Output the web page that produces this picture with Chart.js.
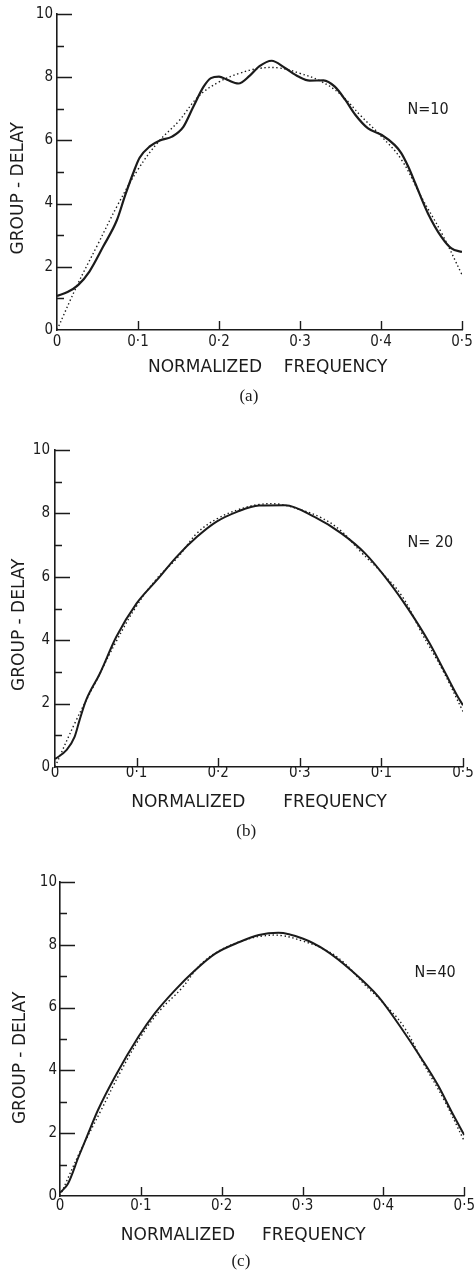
<!DOCTYPE html>
<html>
<head>
<meta charset="utf-8">
<script src="https://cdn.jsdelivr.net/npm/chart.js@4.4.1/dist/chart.umd.min.js"></script>
<style>
  html, body { margin: 0; padding: 0; background: #fff; }
  body { width: 476px; height: 1276px; position: relative; overflow: hidden; }
  canvas { position: absolute; left: 0; }
</style>
</head>
<body>
<canvas id="chartA" width="476" height="415" style="top:0px;width:476px;height:415px"></canvas>
<canvas id="chartB" width="476" height="430" style="top:415px;width:476px;height:430px"></canvas>
<canvas id="chartC" width="476" height="431" style="top:845px;width:476px;height:431px"></canvas>
<script>
// desired group delay (dotted curve), same in all three panels
const idealFreq  = [0, 0.025, 0.05, 0.075, 0.1, 0.125, 0.15, 0.175, 0.2, 0.225, 0.25, 0.275, 0.3, 0.325, 0.35, 0.375, 0.4, 0.425, 0.45, 0.475, 0.5];
const idealDelay = [0, 1.42, 2.69, 3.96, 5.08, 5.95, 6.6, 7.4, 7.85, 8.12, 8.28, 8.29, 8.12, 7.88, 7.46, 6.78, 6.14, 5.4, 4.2, 3.06, 1.75];

// designed responses (solid curves)
const freqN10  = [0, 0.013, 0.026, 0.04, 0.057, 0.074, 0.084, 0.094, 0.102, 0.115, 0.127, 0.142, 0.156, 0.168, 0.181, 0.19, 0.2, 0.21, 0.224, 0.238, 0.25, 0.265, 0.281, 0.298, 0.312, 0.329, 0.343, 0.356, 0.368, 0.384, 0.401, 0.417, 0.425, 0.434, 0.442, 0.458, 0.475, 0.487, 0.5];
const delayN10 = [1.08, 1.2, 1.42, 1.85, 2.64, 3.48, 4.25, 4.96, 5.45, 5.82, 6.0, 6.12, 6.43, 7.05, 7.7, 7.97, 8.02, 7.92, 7.8, 8.05, 8.35, 8.52, 8.3, 8.02, 7.89, 7.9, 7.7, 7.28, 6.82, 6.38, 6.17, 5.85, 5.6, 5.15, 4.66, 3.69, 2.93, 2.58, 2.47];

const freqN20  = [0, 0.014, 0.024, 0.03, 0.038, 0.055, 0.075, 0.1, 0.125, 0.149, 0.174, 0.198, 0.223, 0.25, 0.282, 0.318, 0.351, 0.38, 0.409, 0.433, 0.458, 0.478, 0.494, 0.5];
const delayN20 = [0.25, 0.53, 0.95, 1.47, 2.1, 2.95, 4.1, 5.16, 5.9, 6.63, 7.26, 7.74, 8.05, 8.25, 8.26, 7.89, 7.37, 6.74, 5.85, 4.98, 3.95, 2.98, 2.2, 1.95];

const freqN40  = [0, 0.01, 0.023, 0.035, 0.047, 0.068, 0.097, 0.117, 0.142, 0.167, 0.192, 0.222, 0.246, 0.27, 0.3, 0.328, 0.36, 0.394, 0.422, 0.447, 0.468, 0.484, 0.5];
const delayN40 = [0.1, 0.4, 1.25, 2.0, 2.74, 3.8, 5.07, 5.81, 6.55, 7.19, 7.72, 8.09, 8.31, 8.38, 8.2, 7.83, 7.19, 6.34, 5.35, 4.38, 3.5, 2.7, 1.94];

// tick labels (panel b really prints 0·1 at 0·4)
const xTickLabelsA = ['0', '0·1', '0·2', '0·3', '0·4', '0·5'];
const xTickLabelsB = ['0', '0·1', '0·2', '0·3', '0·1', '0·5'];
const xTickLabelsC = ['0', '0·1', '0·2', '0·3', '0·4', '0·5'];
const yTickLabels  = ['0', '', '2', '', '4', '', '6', '', '8', '', '10'];

const ink = '#1b1b1b';
const condensed = '"DejaVu Sans Condensed", "DejaVu Sans", sans-serif';

function pts(xs, ys){
  return xs.map((x, i) => ({x: x, y: ys[i]}));
}

// tick marks point into the plot, long ones at labelled values
const inwardTicks = {
  id: 'inwardTicks',
  afterDraw(chart){
    const {ctx, chartArea, scales: {x, y}} = chart;
    ctx.save();
    ctx.strokeStyle = ink;
    ctx.lineWidth = 1.4;
    ctx.beginPath();
    y.ticks.forEach(t => {
      if(t.value === 0) return;
      const py = Math.round(y.getPixelForValue(t.value)) + 0.5;
      const len = t.value % 2 === 0 ? 15 : 7;
      ctx.moveTo(chartArea.left, py);
      ctx.lineTo(chartArea.left + len, py);
    });
    x.ticks.forEach(t => {
      if(t.value === 0) return;
      const px = Math.round(x.getPixelForValue(t.value)) + 0.5;
      ctx.moveTo(px, chartArea.bottom);
      ctx.lineTo(px, chartArea.bottom - 9);
    });
    ctx.stroke();
    ctx.restore();
  }
};

// the "N=.." label, placed in data units
const panelNote = {
  id: 'panelNote',
  afterDraw(chart, args, opts){
    const {ctx, scales: {x, y}} = chart;
    ctx.save();
    ctx.font = '16px ' + condensed;
    ctx.fillStyle = ink;
    ctx.textAlign = 'center';
    ctx.textBaseline = 'middle';
    ctx.fillText(opts.text, x.getPixelForValue(opts.x), y.getPixelForValue(opts.y));
    ctx.restore();
  }
};

function makePanel(id, g, solid, xLabels, note, caption, xTitle, yTitle){
  const half = 10.2; // half line height of the 17px fonts
  const titleTop = g.captionY - half;
  const xAxisHeight = titleTop - g.bottom;

  new Chart(document.getElementById(id), {
    type: 'line',
    data: {
      datasets: [{
        data: pts(idealFreq, idealDelay),
        borderColor: ink,
        borderWidth: 1.4,
        borderDash: [1.4, 2.6],
        pointRadius: 0,
        tension: 0.4,
        fill: false
      }, {
        data: solid,
        borderColor: ink,
        borderWidth: g.lineWidth,
        pointRadius: 0,
        cubicInterpolationMode: 'monotone',
        fill: false
      }]
    },
    options: {
      responsive: false,
      animation: false,
      devicePixelRatio: 1,
      layout: { padding: { left: 0, top: g.top, right: 476 - g.right, bottom: 0 } },
      plugins: {
        legend: { display: false },
        tooltip: { enabled: false },
        title: {
          display: true,
          position: 'bottom',
          fullSize: false,
          text: caption,
          color: ink,
          font: { family: '"Liberation Serif", serif', size: 17, weight: 'normal' },
          padding: { top: 0, bottom: g.height - g.captionY - half }
        },
        panelNote: note
      },
      scales: {
        x: {
          type: 'linear',
          min: 0,
          max: 0.5,
          grid: { display: false, drawTicks: false },
          border: { display: true, color: ink, width: 1.6 },
          ticks: {
            stepSize: 0.1,
            autoSkip: false,
            maxRotation: 0,
            padding: g.tickPadX,
            color: ink,
            font: { family: condensed, size: 15 },
            callback: (v, i) => xLabels[i]
          },
          title: {
            display: true,
            text: xTitle,
            color: ink,
            font: { family: '"DejaVu Sans", sans-serif', size: 17 },
            padding: { top: 0, bottom: titleTop - g.xTitleY - half }
          },
          afterFit: s => { s.height = xAxisHeight; }
        },
        y: {
          min: 0,
          max: 10,
          grid: { display: false, drawTicks: false },
          border: { display: true, color: ink, width: 1.6 },
          ticks: {
            stepSize: 1,
            autoSkip: false,
            padding: g.tickPadY,
            color: ink,
            font: { family: condensed, size: 15 },
            callback: (v, i) => yTickLabels[i]
          },
          title: {
            display: true,
            text: yTitle,
            color: ink,
            font: { family: '"DejaVu Sans", sans-serif', size: 17 },
            padding: { top: g.yTitleX - half, bottom: 0 }
          },
          afterFit: s => { s.width = g.left; }
        }
      }
    },
    plugins: [inwardTicks, panelNote]
  });
}

makePanel('chartA',
  { height: 415, top: 14, bottom: 330, left: 57, right: 462, tickPadX: 3, tickPadY: 4, xTitleY: 368, yTitleX: 19, captionY: 397, lineWidth: 2.2 },
  pts(freqN10, delayN10), xTickLabelsA,
  { text: 'N=10', x: 0.458, y: 6.96 },
  '(a)     ', '   NORMALIZED    FREQUENCY', 'GROUP - DELAY      ');

makePanel('chartB',
  { height: 430, top: 35, bottom: 352, left: 55, right: 463, tickPadX: -3, tickPadY: 5, xTitleY: 388, yTitleX: 20, captionY: 417, lineWidth: 2.0 },
  pts(freqN20, delayN20), xTickLabelsB,
  { text: 'N= 20', x: 0.46, y: 7.07 },
  '(b)      ', 'NORMALIZED       FREQUENCY', 'GROUP - DELAY      ');

makePanel('chartC',
  { height: 431, top: 37, bottom: 351, left: 60, right: 466, tickPadX: 1, tickPadY: 3, xTitleY: 391, yTitleX: 21, captionY: 417, lineWidth: 2.0 },
  pts(freqN40, delayN40), xTickLabelsC,
  { text: 'N=40', x: 0.464, y: 7.1 },
  '(c)          ', 'NORMALIZED     FREQUENCY       ', 'GROUP - DELAY       ');
</script>
</body>
</html>
